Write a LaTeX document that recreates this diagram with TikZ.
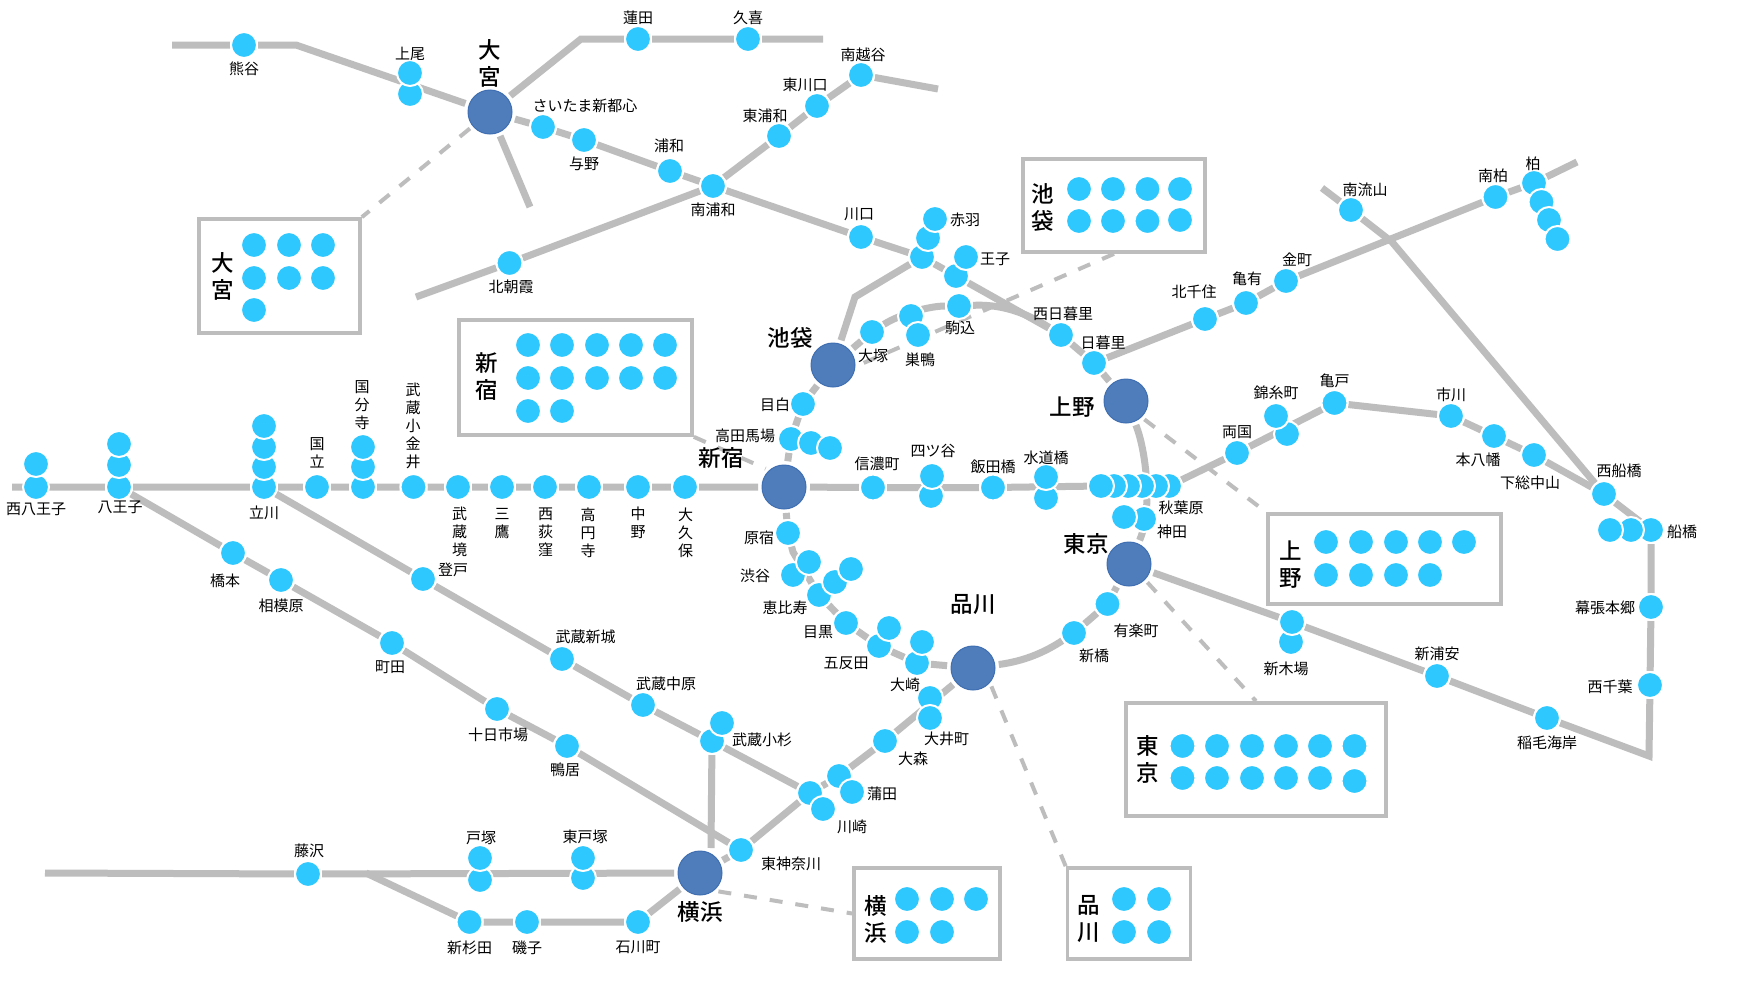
\documentclass[tikz,border=0pt]{standalone}
\usepackage{fontspec}
\setmainfont{Noto Sans CJK JP}
\newfontfamily\bigjp{Noto Sans CJK JP Medium}
\pgfdeclarelayer{rails}
\pgfsetlayers{rails,main}
\definecolor{stncol}{HTML}{2EC8FF}
\definecolor{hubcol}{HTML}{4F7DBB}
\definecolor{hubedge}{HTML}{3F6FB2}
\definecolor{railcol}{HTML}{BDBDBD}
\tikzset{
  stn/.style={circle,fill=stncol,draw=white,line width=2pt,minimum size=26pt,inner sep=0pt},
  hub/.style={circle,fill=hubcol,draw=hubedge,line width=1pt,minimum size=44pt,inner sep=0pt,outer sep=4pt},
  lab/.style={inner sep=0pt,align=center,text=black,yshift=-0.7pt,font=\fontsize{15}{18}\selectfont},
  biglab/.style={inner sep=0pt,align=center,text=black,font=\bigjp\fontsize{22.5}{27}\selectfont},
  rail/.style={draw=railcol,line width=7pt},
  link/.style={draw=railcol,line width=4pt,dash pattern=on 13pt off 13pt},
  panel/.style={rectangle,draw=railcol,line width=3.7pt,inner sep=0pt}
}
\newcommand\stn[3]{\node[stn] (#1) at (#2,#3) {};}
\newcommand\hubn[3]{\node[hub] (#1) at (#2,#3) {};}
\newcommand\lbl[4]{\node[lab] (#1) at (#2,#3) {#4};}
\newcommand\blbl[4]{\node[biglab] (#1) at (#2,#3) {#4};}
\begin{document}
\begin{tikzpicture}[x=1pt,y=-1pt]
\useasboundingbox (0,0) rectangle (1740,980);
% ---- free ends and bends
\coordinate (c1) at (172,45);
\coordinate (c2) at (296,45);
\coordinate (c3) at (581,39);
\coordinate (c4) at (823,39);
\coordinate (c5) at (530,207);
\coordinate (c6) at (416,297);
\coordinate (c7) at (938,89);
\coordinate (c8) at (855,297);
\coordinate (c9) at (12,487);
\coordinate (c10) at (1577,162);
\coordinate (c11) at (1322,188);
\coordinate (c12) at (1392,242);
\coordinate (c13) at (1649,756);
\coordinate (c14) at (793,552);
\coordinate (c15) at (711,848);
\coordinate (c16) at (45,873);
\coordinate (c17) at (366,873);
% ---- panels
\node[panel,minimum width=161pt,minimum height=114pt] (pOmiya) at (279.5,276) {};
\node[panel,minimum width=233pt,minimum height=115pt] (pShinjuku) at (575.5,377.5) {};
\node[panel,minimum width=182pt,minimum height=93pt] (pIkebukuro) at (1114,205.5) {};
\node[panel,minimum width=233pt,minimum height=90pt] (pUeno) at (1384.5,559) {};
\node[panel,minimum width=260pt,minimum height=113pt] (pTokyo) at (1256,759.5) {};
\node[panel,minimum width=123pt,minimum height=91pt] (pShinagawa) at (1129,913.5) {};
\node[panel,minimum width=146pt,minimum height=91pt] (pYokohama) at (927,913.5) {};
% ---- hubs
\hubn{omiya}{490}{112}
\hubn{ikebukuro}{833}{365}
\hubn{shinjuku}{784}{487}
\hubn{ueno}{1126}{401}
\hubn{tokyo}{1129}{564}
\hubn{shinagawa}{973}{668}
\hubn{yokohama}{700}{873}
% ---- stations (overlapping ones: lower one first)
\stn{kumagaya}{244}{45}
\stn{ageob}{410}{94}\stn{ageoa}{410}{73}
\stn{hasuda}{638}{39}
\stn{kuki}{748}{39}
\stn{saitama}{543}{127}
\stn{yono}{584}{140}
\stn{urawa}{670}{171}
\stn{minamiurawa}{713}{186}
\stn{higashiurawa}{779}{136}
\stn{higashikawaguchi}{817}{106}
\stn{minamikoshigaya}{861}{75}
\stn{kawaguchi}{861}{237}
\stn{kitaasaka}{509.5}{263}
\stn{akabanec}{922}{257}\stn{akabaneb}{928}{238}\stn{akabanea}{935}{219}
\stn{ojib}{956}{276}\stn{ojia}{966}{257}
\stn{komagome}{959}{306}
\stn{sugamob}{911}{316}\stn{sugamoa}{918}{335}
\stn{otsuka}{872}{332}
\stn{nishinippori}{1061}{335}
\stn{nippori}{1094}{363}
\stn{kitasenju}{1205}{319}
\stn{kameari}{1246}{303}
\stn{kanamachi}{1286}{281}
\stn{minamikashiwa}{1495.5}{197}
\stn{kashiwaa}{1534}{183}\stn{kashiwab}{1541.5}{202}\stn{kashiwac}{1549}{220}\stn{kashiwad}{1557.5}{239}
\stn{minaminagareyama}{1351}{210}
\stn{mejiro}{803}{404}
\stn{takadaa}{791}{439}\stn{takadab}{811}{443}\stn{takadac}{830}{448}
\stn{nishihachib}{36}{487}\stn{nishihachia}{36}{464}
\stn{hachiojic}{119}{487}\stn{hachiojib}{119}{465}\stn{hachiojia}{119}{444}
\stn{tachikawad}{264}{487}\stn{tachikawac}{264}{467}\stn{tachikawab}{264}{447}\stn{tachikawaa}{264}{426}
\stn{kunitachi}{317}{487}
\stn{kokubunjic}{363}{487}\stn{kokubunjib}{363}{467}\stn{kokubunjia}{363}{447}
\stn{koganei}{413.5}{487}
\stn{sakai}{458}{487}
\stn{mitaka}{502}{487}
\stn{ogikubo}{545}{487}
\stn{koenji}{589}{487}
\stn{nakano}{638}{487}
\stn{okubo}{685}{487}
\stn{shinanomachi}{873}{487.5}
\stn{yotsuyab}{931}{496}\stn{yotsuyaa}{932}{476}
\stn{iidabashi}{993}{487.5}
\stn{suidobashib}{1046}{498}\stn{suidobashia}{1046}{477}
\stn{akibaf}{1169}{486}\stn{akibae}{1156}{486}\stn{akibad}{1142}{486}\stn{akibac}{1128}{486}\stn{akibab}{1114}{486}\stn{akibaa}{1101}{486}
\stn{kandab}{1144}{519}\stn{kandaa}{1124}{517}
\stn{ryogoku}{1237}{453}
\stn{kinshib}{1287}{434}\stn{kinshia}{1276}{416}
\stn{kameido}{1334.5}{403}
\stn{ichikawa}{1451}{416}
\stn{motoyawata}{1494}{436}
\stn{shimosa}{1534}{455}
\stn{nishifunabashi}{1604}{494}
\stn{funabashic}{1651}{530}\stn{funabashib}{1631}{530}\stn{funabashia}{1610}{530}
\stn{makuhari}{1651}{607}
\stn{nishichiba}{1650}{685}
\stn{inage}{1547}{718}
\stn{shinurayasu}{1437}{676}
\stn{shinkibab}{1291}{642}\stn{shinkibaa}{1292}{622}
\stn{yurakucho}{1107.5}{604}
\stn{shimbashi}{1074}{633}
\stn{harajuku}{788}{533}
\stn{shibuyab}{793}{575}\stn{shibuyaa}{809}{562}
\stn{ebisuc}{819}{595}\stn{ebisub}{835}{582}\stn{ebisua}{851}{569}
\stn{meguro}{846}{623}
\stn{gotandab}{879}{646}\stn{gotandaa}{889}{628}
\stn{osakib}{917}{663}\stn{osakia}{922}{642}
\stn{oimachia}{930}{698}\stn{oimachib}{930}{718}
\stn{omori}{885}{741}
\stn{kamatab}{839}{776}\stn{kamataa}{852}{792}
\stn{kawasakia}{810}{793}\stn{kawasakib}{823}{809}
\stn{higashikanagawa}{741}{850}
\stn{hashimoto}{233}{553}
\stn{sagamihara}{281}{580}
\stn{machida}{392}{643}
\stn{tokaichiba}{497}{709}
\stn{kamoi}{567}{746}
\stn{noborito}{423}{579}
\stn{shinjo}{562}{659}
\stn{nakahara}{643}{705}
\stn{kosugib}{712}{741}\stn{kosugia}{722}{723}
\stn{fujisawa}{308}{874}
\stn{totsukab}{480}{880}\stn{totsukaa}{480}{858}
\stn{higashitotsukab}{583}{878}\stn{higashitotsukaa}{583}{858}
\stn{shinsugita}{469.5}{922}
\stn{isogo}{527}{922}
\stn{ishikawacho}{638}{922}
% ---- panel dots
\stn{oa1}{254}{245}\stn{oa2}{289}{245}\stn{oa3}{323}{245}
\stn{oa4}{254}{278}\stn{oa5}{289}{278}\stn{oa6}{323}{278}
\stn{oa7}{254}{310}
\stn{sa1}{528}{345}\stn{sa2}{562}{345}\stn{sa3}{597}{345}\stn{sa4}{631}{345}\stn{sa5}{665}{345}
\stn{sa6}{528}{378}\stn{sa7}{562}{378}\stn{sa8}{597}{378}\stn{sa9}{631}{378}\stn{sa10}{665}{378}
\stn{sa11}{528}{411}\stn{sa12}{562}{411}
\stn{ia1}{1079}{189}\stn{ia2}{1113}{189}\stn{ia3}{1147.5}{189}\stn{ia4}{1180}{189}
\stn{ia5}{1079}{221}\stn{ia6}{1113}{221}\stn{ia7}{1147.5}{221}\stn{ia8}{1180}{220}
\stn{ua1}{1326}{542}\stn{ua2}{1361}{542}\stn{ua3}{1396}{542}\stn{ua4}{1430}{542}\stn{ua5}{1464}{542}
\stn{ua6}{1326}{575}\stn{ua7}{1361}{575}\stn{ua8}{1396}{575}\stn{ua9}{1430}{575}
\stn{ta1}{1182.5}{746}\stn{ta2}{1217}{746}\stn{ta3}{1252}{746}\stn{ta4}{1286}{746}\stn{ta5}{1320}{746}\stn{ta6}{1354.5}{746}
\stn{ta7}{1182.5}{778}\stn{ta8}{1217}{778}\stn{ta9}{1252}{778}\stn{ta10}{1286}{778}\stn{ta11}{1320}{778}\stn{ta12}{1354.5}{781}
\stn{qa1}{1124}{899}\stn{qa2}{1159}{899}\stn{qa3}{1124}{932}\stn{qa4}{1159}{932}
\stn{ya1}{907}{899}\stn{ya2}{942}{899}\stn{ya3}{976}{899}\stn{ya4}{907}{932}\stn{ya5}{942}{932}
% ---- rails
\begin{pgfonlayer}{rails}
\fill[white] (0,0) rectangle (1740,980);
\path[rail] (c1) -- (kumagaya) -- (c2) -- (omiya);
\path[rail] (omiya) -- (c3) -- (hasuda) -- (kuki) -- (c4);
\path[rail] (omiya) -- (c5);
\path[rail] (omiya) -- (saitama) -- (yono) -- (urawa) -- (minamiurawa) -- (kawaguchi) -- (akabanec) -- (ojib) -- (nishinippori) -- (nippori) -- (ueno);
\path[rail] (c6) -- (kitaasaka) -- (minamiurawa) -- (higashiurawa) -- (higashikawaguchi) -- (minamikoshigaya) -- (c7);
\path[rail] (ikebukuro) -- (c8) -- (akabanec);
\path[rail] (ikebukuro) -- (otsuka);
\path[rail] (otsuka) .. controls (900,314) and (930,306) .. (komagome);
\path[rail] (komagome) .. controls (1000,304) and (1025,312) .. (nishinippori);
\path[rail] (shinjuku) -- (takadaa) -- (mejiro) -- (ikebukuro);
\path[rail] (c9) -- (hachiojic) -- (tachikawad) -- (kunitachi) -- (kokubunjic) -- (koganei) -- (sakai) -- (mitaka) -- (ogikubo) -- (koenji) -- (nakano) -- (okubo) -- (shinjuku) -- (shinanomachi) -- (iidabashi) -- (akibaa);
\path[rail] (ueno) .. controls (1146,450) and (1153,510) .. (tokyo);
\path[rail] (nippori) -- (kitasenju) -- (kameari) -- (kanamachi) -- (minamikashiwa) -- (kashiwaa) -- (c10);
\path[rail] (c11) -- (minaminagareyama) -- (c12) -- (nishifunabashi);
\path[rail] (akibaf) -- (ryogoku) -- (kameido) -- (ichikawa) -- (motoyawata) -- (shimosa) -- (nishifunabashi) -- (funabashic) -- (makuhari) -- (nishichiba) -- (c13) -- (inage) -- (shinurayasu) -- (shinkibaa) -- (tokyo);
\path[rail] (tokyo) -- (yurakucho) -- (shimbashi);
\path[rail] (shimbashi) .. controls (1045,652) and (1025,661) .. (shinagawa);
\path[rail] (shinagawa) -- (osakib) -- (gotandab) -- (meguro) -- (ebisuc) -- (c14) -- (harajuku) -- (shinjuku);
\path[rail] (shinagawa) -- (omori) -- (kamatab) -- (kawasakia) -- (higashikanagawa) -- (yokohama);
\path[rail] (hachiojic) -- (hashimoto) -- (sagamihara) -- (machida) -- (tokaichiba) -- (kamoi) -- (higashikanagawa);
\path[rail] (tachikawad) -- (noborito) -- (shinjo) -- (nakahara) -- (kosugib) -- (kawasakia);
\path[rail] (kosugib) -- (c15);
\path[rail] (c16) -- (fujisawa) -- (yokohama);
\path[rail] (c17) -- (shinsugita) -- (isogo) -- (ishikawacho) -- (yokohama);
\path[link] (omiya) -- (pOmiya.north east);
\path[link] (pShinjuku.south east) -- (shinjuku.north west);
\path[link] (pIkebukuro.south) -- (ikebukuro.east);
\path[link] (ueno.south east) -- (pUeno.north west);
\path[link] (tokyo.south east) -- (pTokyo.north);
\path[link] (shinagawa.south east) -- (pShinagawa.north west);
\path[link] (yokohama.south east) -- (pYokohama.west);
\end{pgfonlayer}
% ---- labels
\lbl{l1}{244}{68}{熊谷}
\lbl{l2}{410}{53}{上尾}
\lbl{l3}{638}{17}{蓮田}
\lbl{l4}{748}{17}{久喜}
\lbl{l5}{585}{105}{さいたま新都心}
\lbl{l6}{584}{163}{与野}
\lbl{l7}{669}{145}{浦和}
\lbl{l8}{713}{209}{南浦和}
\lbl{l9}{765}{115}{東浦和}
\lbl{l10}{805}{84}{東川口}
\lbl{l11}{863}{54}{南越谷}
\lbl{l12}{859}{214}{川口}
\lbl{l13}{511}{286}{北朝霞}
\lbl{l14}{965}{219}{赤羽}
\lbl{l15}{995}{259}{王子}
\lbl{l16}{960}{327}{駒込}
\lbl{l17}{920}{359}{巣鴨}
\lbl{l18}{873}{355}{大塚}
\lbl{l19}{1063}{313}{西日暮里}
\lbl{l20}{1103}{342}{日暮里}
\lbl{l21}{1194}{291}{北千住}
\lbl{l22}{1247}{278}{亀有}
\lbl{l23}{1297}{259}{金町}
\lbl{l24}{1493}{175}{南柏}
\lbl{l25}{1533}{163}{柏}
\lbl{l26}{1365}{189}{南流山}
\lbl{l27}{1619}{470}{西船橋}
\lbl{l28}{1276}{392}{錦糸町}
\lbl{l29}{1334.5}{380}{亀戸}
\lbl{l30}{1451}{394}{市川}
\lbl{l31}{1478}{459}{本八幡}
\lbl{l32}{1530}{482}{下総中山}
\lbl{l33}{1237}{431}{両国}
\lbl{l34}{1046}{457}{水道橋}
\lbl{l35}{993}{466}{飯田橋}
\lbl{l36}{933}{450}{四ツ谷}
\lbl{l37}{877}{463}{信濃町}
\lbl{l38}{1181}{507}{秋葉原}
\lbl{l39}{1172}{531}{神田}
\lbl{l40}{1136}{630}{有楽町}
\lbl{l41}{1094}{655}{新橋}
\lbl{l42}{1286}{668}{新木場}
\lbl{l43}{1437}{653}{新浦安}
\lbl{l44}{1547}{742}{稲毛海岸}
\lbl{l45}{1610}{686}{西千葉}
\lbl{l46}{1605}{607}{幕張本郷}
\lbl{l47}{1682}{531}{船橋}
\lbl{l48}{775}{404}{目白}
\lbl{l49}{745}{435}{高田馬場}
\lbl{l50}{759}{537}{原宿}
\lbl{l51}{755}{575}{渋谷}
\lbl{l52}{785}{607}{恵比寿}
\lbl{l53}{818}{631}{目黒}
\lbl{l54}{846}{663}{五反田}
\lbl{l55}{905}{684}{大崎}
\lbl{l56}{946.6}{738}{大井町}
\lbl{l57}{913}{758}{大森}
\lbl{l58}{882}{793}{蒲田}
\lbl{l59}{852}{826}{川崎}
\lbl{l60}{791}{863}{東神奈川}
\lbl{l61}{36}{509}{西八王子}
\lbl{l62}{120}{507}{八王子}
\lbl{l63}{264}{512}{立川}
\lbl{l64}{225}{580}{橋本}
\lbl{l65}{281}{605}{相模原}
\lbl{l66}{390}{666}{町田}
\lbl{l67}{498}{734}{十日市場}
\lbl{l68}{565}{769}{鴨居}
\lbl{l69}{453}{569}{登戸}
\lbl{l70}{585.5}{636}{武蔵新城}
\lbl{l71}{666}{683}{武蔵中原}
\lbl{l72}{762}{739}{武蔵小杉}
\lbl{l73}{309}{850}{藤沢}
\lbl{l74}{481}{837}{戸塚}
\lbl{l75}{585}{836}{東戸塚}
\lbl{l76}{469.5}{947}{新杉田}
\lbl{l77}{527}{947}{磯子}
\lbl{l78}{638}{947}{石川町}
\lbl{l79}{317}{452}{国\\立}
\lbl{l80}{362}{404}{国\\分\\寺}
\lbl{l81}{413}{425}{武\\蔵\\小\\金\\井}
\lbl{l82}{459.5}{531}{武\\蔵\\境}
\lbl{l83}{502}{523}{三\\鷹}
\lbl{l84}{545.5}{532}{西\\荻\\窪}
\lbl{l85}{588}{532}{高\\円\\寺}
\lbl{l86}{638}{522}{中\\野}
\lbl{l87}{685.5}{532}{大\\久\\保}
\blbl{b1}{490}{63}{大\\宮}
\blbl{b2}{790}{338}{池袋}
\blbl{b3}{721}{458}{新宿}
\blbl{b4}{1072}{407}{上野}
\blbl{b5}{1086}{544}{東京}
\blbl{b6}{973}{605}{品川}
\blbl{b7}{700}{912}{横浜}
\blbl{b8}{223}{276}{大\\宮}
\blbl{b9}{487}{377}{新\\宿}
\blbl{b10}{1043}{207}{池\\袋}
\blbl{b11}{1291}{565}{上\\野}
\blbl{b12}{1148}{759}{東\\京}
\blbl{b13}{1089}{919}{品\\川}
\blbl{b14}{876}{919}{横\\浜}
\end{tikzpicture}
\end{document}
